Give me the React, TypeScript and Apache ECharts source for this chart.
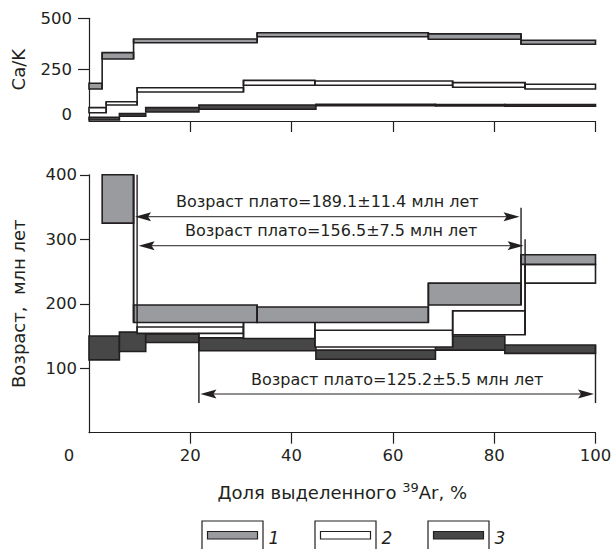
import React, { useEffect, useRef } from "react";
import * as echarts from "echarts";

const FONT = "'DejaVu Sans', 'Liberation Sans', Arial, sans-serif";
const INK = "#231f20";
const GRAY = "#999b9f";
const DARK = "#474747";
const WHITE = "#ffffff";

// axis ticks
const xTickValues = [20, 40, 60, 80, 100];
const caKTickValues = [250, 500];
const caKLabelValues = [0, 250, 500];
const ageTickValues = [100, 200, 300, 400];

// step boundaries, % of released 39Ar
const grayEdges = [0, 2.6, 8.8, 33.2, 67, 85.3, 100];
const whiteEdges = [0, 3.4, 9.5, 30.5, 44.6, 71.8, 86.1, 100];
const darkEdges = [0, 6, 11.2, 21.7, 44.8, 68.4, 82.1, 100];

// Ca/K (low / high of each step)
const grayCaKLo = [156, 302, 381, 410, 398, 374];
const grayCaKHi = [184, 333, 399, 430, 424, 393];
const whiteCaKLo = [40, 78, 141, 174, 174, 164, 156];
const whiteCaKHi = [65, 94, 162, 198, 195, 187, 179];
const darkCaKLo = [5, 23, 44, 57, 74, 73, 72];
const darkCaKHi = [18, 36, 65, 78, 81, 80, 80];

// Age, Ma (null = step not shown on the age scale)
const grayAgeLo = [null, 325, 171, 171, 198, 261];
const grayAgeHi = [null, 400, 198, 195, 232, 276];
const whiteAgeLo = [null, null, 154, 146, 133, 152, 232];
const whiteAgeHi = [null, null, 164, 176, 159, 189, 261];
const darkAgeLo = [113, 126, 140, 127, 114, 128, 123];
const darkAgeHi = [150, 156, 153, 147, 128, 150, 136];

// plateaus
const plateauLabels = [
  "Возраст плато=189.1±11.4 млн лет",
  "Возраст плато=156.5±7.5 млн лет",
  "Возраст плато=125.2±5.5 млн лет",
];
const plateauStart = [8.8, 9.5, 21.7];
const plateauEnd = [85.3, 86.1, 100];
const plateauArrowAge = [335, 290, 60];
const plateauTextAge = [358, 313, 82];
const plateauLeftTop = [400, 400, 155];
const plateauLeftBottom = [171, 154, 46];
const plateauRightTop = [349, 300, 136];
const plateauRightBottom = [198, 152, 46];

const legendLabels = ["1", "2", "3"];
const legendFills = [GRAY, WHITE, DARK];

function boxSeries(
  name: string,
  edges: number[],
  lo: (number | null)[],
  hi: (number | null)[],
  fill: string,
  axisIndex: number,
  connect: boolean
) {
  const data: number[][] = [];
  for (let i = 0; i < lo.length; i++) {
    if (lo[i] == null || hi[i] == null) continue;
    const hasPrev = connect && i > 0 && lo[i - 1] != null && hi[i - 1] != null;
    data.push([
      edges[i],
      edges[i + 1],
      lo[i] as number,
      hi[i] as number,
      hasPrev ? (lo[i - 1] as number) : 0,
      hasPrev ? (hi[i - 1] as number) : 0,
      hasPrev ? 1 : 0,
    ]);
  }
  return {
    type: "custom",
    name,
    xAxisIndex: axisIndex,
    yAxisIndex: axisIndex,
    clip: false,
    data,
    encode: { x: [0, 1], y: [2, 3] },
    renderItem: (_p: any, api: any) => {
      const a = api.coord([api.value(0), api.value(3)]);
      const b = api.coord([api.value(1), api.value(2)]);
      const children: any[] = [
        {
          type: "rect",
          shape: { x: a[0], y: a[1], width: b[0] - a[0], height: b[1] - a[1] },
          style: { fill, stroke: INK, lineWidth: 1.6 },
        },
      ];
      if (api.value(6) === 1) {
        const top = Math.max(api.value(3), api.value(5));
        const bot = Math.min(api.value(2), api.value(4));
        const p = api.coord([api.value(0), top]);
        const q = api.coord([api.value(0), bot]);
        children.push({
          type: "line",
          shape: { x1: p[0], y1: p[1], x2: q[0], y2: q[1] },
          style: { stroke: INK, lineWidth: 1.6 },
        });
      }
      return { type: "group", children };
    },
  };
}

const plateauData = plateauLabels.map((_, i) => [
  plateauStart[i],
  plateauEnd[i],
  plateauArrowAge[i],
  plateauLeftTop[i],
  plateauLeftBottom[i],
  plateauRightTop[i],
  plateauRightBottom[i],
  plateauTextAge[i],
  i,
]);

const axisLine = { show: true, lineStyle: { color: INK, width: 1.2 } };
const labelStyle = { fontSize: 16.5, fontFamily: FONT, color: INK };
const nameStyle = { fontSize: 18, fontFamily: FONT, color: INK };

const legendGraphics: any[] = [];
const legendX = [202, 315, 428];
legendLabels.forEach((lab, i) => {
  const x = legendX[i];
  legendGraphics.push({
    type: "rect",
    shape: { x, y: 521, width: 61, height: 40 },
    style: { fill: "none", stroke: INK, lineWidth: 1.2 },
  });
  legendGraphics.push({
    type: "rect",
    shape: { x: x + 5.5, y: 531.5, width: 50, height: 7.5 },
    style: { fill: legendFills[i], stroke: INK, lineWidth: 1.2 },
  });
  legendGraphics.push({
    type: "text",
    x: x + 72,
    y: 537.5,
    style: {
      text: lab,
      fontSize: 17,
      fontStyle: "italic",
      fontFamily: FONT,
      fill: INK,
      align: "center",
      verticalAlign: "middle",
    },
  });
});

const option: any = {
  animation: false,
  backgroundColor: "#fff",
  textStyle: { fontFamily: FONT },
  grid: [
    { left: 89, width: 506.5, top: 18.3, height: 102.7 },
    { left: 89, width: 506.5, top: 174.8, height: 257.9 },
  ],
  xAxis: [
    {
      gridIndex: 0,
      type: "value",
      min: 0,
      max: 100,
      interval: 20,
      axisLine,
      axisTick: { show: true, customValues: xTickValues, length: 11, lineStyle: { color: INK, width: 1.2 } },
      axisLabel: { show: false },
      splitLine: { show: false },
    },
    {
      gridIndex: 1,
      type: "value",
      min: 0,
      max: 100,
      interval: 20,
      axisLine,
      axisTick: { show: true, customValues: xTickValues, length: 11, lineStyle: { color: INK, width: 1.2 } },
      axisLabel: {
        ...labelStyle,
        margin: 14,
        formatter: (v: number) => (v === 0 ? "{z|0}" : String(v)),
        rich: { z: { ...labelStyle, padding: [0, 40, 0, 0] } },
      },
      splitLine: { show: false },
      name: "{a|Доля выделенного }{s|39}{a|Ar, %}",
      nameLocation: "middle",
      nameGap: 48,
      nameTextStyle: {
        rich: {
          a: { ...nameStyle },
          s: { fontSize: 13, fontFamily: FONT, color: INK, padding: [0, 0, 10, 0] },
        },
      },
    },
  ],
  yAxis: [
    {
      gridIndex: 0,
      type: "value",
      min: 0,
      max: 500,
      interval: 250,
      axisLine,
      axisTick: { show: true, customValues: caKTickValues, length: 11, lineStyle: { color: INK, width: 1.2 } },
      axisLabel: {
        ...labelStyle,
        margin: 17,
        customValues: caKLabelValues,
        formatter: (v: number) => (v === 0 ? "{z|0}" : String(v)),
        rich: { z: { ...labelStyle, padding: [0, 0, 14, 0] } },
      },
      splitLine: { show: false },
      name: "Ca/K",
      nameLocation: "middle",
      nameRotate: 90,
      nameGap: 62,
      nameTextStyle: { ...nameStyle },
    },
    {
      gridIndex: 1,
      type: "value",
      min: 0,
      max: 400,
      interval: 100,
      axisLine,
      axisTick: { show: true, customValues: ageTickValues, length: 9, lineStyle: { color: INK, width: 1.2 } },
      axisLabel: { ...labelStyle, margin: 12, customValues: ageTickValues },
      splitLine: { show: false },
      name: "Возраст,  млн лет",
      nameLocation: "middle",
      nameRotate: 90,
      nameGap: 62,
      nameTextStyle: { ...nameStyle },
    },
  ],
  series: [
    boxSeries("3", darkEdges, darkCaKLo, darkCaKHi, DARK, 0, false),
    boxSeries("2", whiteEdges, whiteCaKLo, whiteCaKHi, WHITE, 0, true),
    boxSeries("1", grayEdges, grayCaKLo, grayCaKHi, GRAY, 0, true),
    boxSeries("3", darkEdges, darkAgeLo, darkAgeHi, DARK, 1, false),
    boxSeries("2", whiteEdges, whiteAgeLo, whiteAgeHi, WHITE, 1, true),
    boxSeries("1", grayEdges, grayAgeLo, grayAgeHi, GRAY, 1, true),
    {
      type: "custom",
      name: "plateau",
      xAxisIndex: 1,
      yAxisIndex: 1,
      clip: false,
      data: plateauData,
      encode: { x: [0, 1], y: [2] },
      renderItem: (_p: any, api: any) => {
        const x0 = api.value(0);
        const x1 = api.value(1);
        const a = api.coord([x0, api.value(2)]);
        const b = api.coord([x1, api.value(2)]);
        const lt = api.coord([x0, api.value(3)]);
        const lb = api.coord([x0, api.value(4)]);
        const rt = api.coord([x1, api.value(5)]);
        const rb = api.coord([x1, api.value(6)]);
        const t = api.coord([(x0 + x1) / 2, api.value(7)]);
        const idx = api.value(8);
        const L = 16;
        const H = 4.5;
        const ax = a[0] + 1.5;
        const bx = b[0] - 1.5;
        const y = a[1];
        return {
          type: "group",
          children: [
            { type: "line", shape: { x1: lt[0], y1: lt[1], x2: lb[0], y2: lb[1] }, style: { stroke: INK, lineWidth: 1.4 } },
            { type: "line", shape: { x1: rt[0], y1: rt[1], x2: rb[0], y2: rb[1] }, style: { stroke: INK, lineWidth: 1.4 } },
            { type: "line", shape: { x1: ax + 4, y1: y, x2: bx - 4, y2: y }, style: { stroke: INK, lineWidth: 1 } },
            {
              type: "polygon",
              shape: { points: [[ax, y], [ax + L, y - H], [ax + L - 3, y], [ax + L, y + H]] },
              style: { fill: INK },
            },
            {
              type: "polygon",
              shape: { points: [[bx, y], [bx - L, y - H], [bx - L + 3, y], [bx - L, y + H]] },
              style: { fill: INK },
            },
            {
              type: "text",
              x: t[0],
              y: t[1],
              style: {
                text: plateauLabels[idx],
                fontSize: 16,
                fontFamily: FONT,
                fill: INK,
                align: "center",
                verticalAlign: "middle",
              },
            },
          ],
        };
      },
    },
  ],
  graphic: legendGraphics,
};

export default function App() {
  const ref = useRef<HTMLDivElement>(null);
  useEffect(() => {
    const chart = echarts.init(ref.current!, null, { renderer: "svg" });
    chart.setOption(option);
    return () => chart.dispose();
  }, []);
  return (
    <div
      ref={ref}
      style={{ position: "absolute", left: 0, top: 0, width: 616, height: 549, background: "#fff" }}
    />
  );
}
